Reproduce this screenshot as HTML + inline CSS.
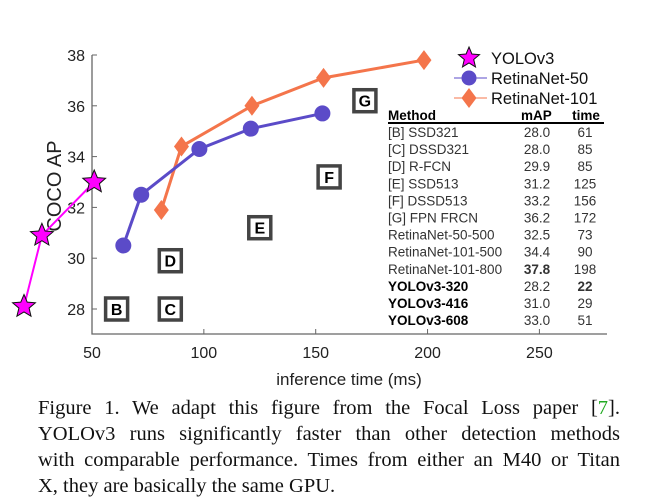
<!DOCTYPE html>
<html><head><meta charset="utf-8"><style>
body{margin:0;background:#fff;width:649px;height:503px;overflow:hidden;position:relative;}
svg{position:absolute;left:0;top:0;}
.cap{position:absolute;left:38px;width:582px;font-family:"Liberation Serif",serif;font-size:20.5px;line-height:26px;color:#111;text-align:justify;text-align-last:justify;white-space:nowrap;}
</style></head><body>
<svg id="chart" width="649" height="400" xmlns="http://www.w3.org/2000/svg" font-family="Liberation Sans, sans-serif"></svg>
<div class="cap" style="top:395px">Figure 1. We adapt this figure from the Focal Loss paper [<span style="color:#2a2">7</span>].</div>
<div class="cap" style="top:421px">YOLOv3 runs significantly faster than other detection methods</div>
<div class="cap" style="top:447px">with comparable performance. Times from either an M40 or Titan</div>
<div class="cap" style="top:473px;text-align-last:left">X, they are basically the same GPU.</div>
<script>
const xTicks=[50,100,150,200,250];
const yTicks=[28,30,32,34,36,38];
const yoloTime=[19.6,27.6,51];
const yoloAP=[28.1,30.9,33.0];
const r50Time=[64,72,98,121,153];
const r50AP=[30.5,32.5,34.3,35.1,35.7];
const r101Time=[81,90,121.5,153.5,198.4];
const r101AP=[31.9,34.4,36.0,37.1,37.8];
const boxLabels=['B','C','D','E','F','G'];
const boxTime=[61,85,85,125,156,172];
const boxAP=[28.0,28.0,29.9,31.2,33.2,36.2];
const tblMethod=['[B] SSD321','[C] DSSD321','[D] R-FCN','[E] SSD513','[F] DSSD513','[G] FPN FRCN','RetinaNet-50-500','RetinaNet-101-500','RetinaNet-101-800','YOLOv3-320','YOLOv3-416','YOLOv3-608'];
const tblMAP=['28.0','28.0','29.9','31.2','33.2','36.2','32.5','34.4','37.8','28.2','31.0','33.0'];
const tblTime=['61','85','85','125','156','172','73','90','198','22','29','51'];

const svg=document.getElementById('chart');
const NS='http://www.w3.org/2000/svg';
const X=v=>92+(v-50)*2.237;
const Y=v=>309-(v-28)*25.4;
function mk(tag,attrs,parent){const e=document.createElementNS(NS,tag);for(const k in attrs)e.setAttribute(k,attrs[k]);(parent||svg).appendChild(e);return e;}

let ax=mk('path',{d:`M92 55 V334 H607`,fill:'none',stroke:'#666','stroke-width':1.3});


xTicks.forEach(t=>{
  const l=mk('line',{x1:X(t),x2:X(t),y1:334,y2:329,stroke:'#666'});
  
  
  const tx=mk('text',{x:X(t),y:358,'text-anchor':'middle','font-size':16,fill:'#222'});tx.textContent=t;
  
  
});
yTicks.forEach(t=>{
  const l=mk('line',{x1:92,x2:97,y1:Y(t),y2:Y(t),stroke:'#666'});
  
  
  const tx=mk('text',{x:85,y:Y(t)+6,'text-anchor':'end','font-size':16,fill:'#222'});tx.textContent=t;
  
  
});
let xt=mk('text',{x:349,y:385,'text-anchor':'middle','font-size':17,fill:'#222'});xt.textContent='inference time (ms)';


let yt=mk('text',{x:0,y:0,'text-anchor':'middle','font-size':20,fill:'#222',transform:'translate(61,186) rotate(-90)'});yt.textContent='COCO AP';



boxLabels.forEach((b,i)=>{
  const g=mk('g',{});
  
  
  const cx=X(boxTime[i]),cy=Y(boxAP[i]);
  mk('rect',{x:cx-11,y:cy-11,width:22,height:22,fill:'#fff',stroke:'#444','stroke-width':3.5},g);
  const t=mk('text',{x:cx,y:cy+6,'text-anchor':'middle','font-size':16,'font-weight':'bold',fill:'#000'},g);t.textContent=b;
});

function star(cx,cy,R,parent){let p='';for(let k=0;k<10;k++){const r=k%2?R*0.45:R;const a=-Math.PI/2+k*Math.PI/5;p+=(k?'L':'M')+(cx+r*Math.cos(a)).toFixed(1)+' '+(cy+r*Math.sin(a)).toFixed(1);}return mk('path',{d:p+'Z',fill:'#ff00ff',stroke:'#111','stroke-width':1},parent);}
function diamond(cx,cy,r,parent){return mk('path',{d:`M${cx} ${cy-r}L${cx+r*0.75} ${cy}L${cx} ${cy+r}L${cx-r*0.75} ${cy}Z`,fill:'#f4754b'},parent);}

const r101=mk('g',{});


mk('polyline',{points:r101Time.map((t,i)=>X(t)+','+Y(r101AP[i])).join(' '),fill:'none',stroke:'#f4754b','stroke-width':3},r101);
r101Time.forEach((t,i)=>{const d=diamond(X(t),Y(r101AP[i]),10,r101);});

const r50=mk('g',{});


mk('polyline',{points:r50Time.map((t,i)=>X(t)+','+Y(r50AP[i])).join(' '),fill:'none',stroke:'#5b4bc8','stroke-width':3},r50);
r50Time.forEach((t,i)=>{const c=mk('circle',{cx:X(t),cy:Y(r50AP[i]),r:8,fill:'#5b4bc8'},r50);});

const yo=mk('g',{});


mk('polyline',{points:yoloTime.map((t,i)=>X(t)+','+Y(yoloAP[i])).join(' '),fill:'none',stroke:'#ff00ff','stroke-width':2},yo);
yoloTime.forEach((t,i)=>{const s=star(X(t),Y(yoloAP[i]),12,yo);});

const lg=mk('g',{});


star(469,58,11,lg);
let t1=mk('text',{x:491,y:64,'font-size':16.5,fill:'#111'},lg);t1.textContent='YOLOv3';
mk('line',{x1:454,x2:487,y1:78,y2:78,stroke:'#5b4bc8','stroke-width':1},lg);
mk('circle',{cx:469,cy:78,r:7.5,fill:'#5b4bc8'},lg);
let t2=mk('text',{x:491,y:84,'font-size':16.5,fill:'#111'},lg);t2.textContent='RetinaNet-50';
mk('line',{x1:454,x2:487,y1:98,y2:98,stroke:'#f4754b','stroke-width':1},lg);
diamond(469,98,10,lg);
let t3=mk('text',{x:491,y:104,'font-size':16.5,fill:'#111'},lg);t3.textContent='RetinaNet-101';

const tb=mk('g',{});


const hdr=[['Method',388,'start'],['mAP',521,'start'],['time',586,'middle']];
hdr.forEach(h=>{const t=mk('text',{x:h[1],y:120,'font-size':13.5,'font-weight':'bold','text-anchor':h[2],fill:'#000'},tb);t.textContent=h[0];});
mk('line',{x1:388,x2:604,y1:123,y2:123,stroke:'#000','stroke-width':2},tb);
tblMethod.forEach((m,i)=>{
  const y=137+i*17.1;
  const bold=i>=9;
  const a=mk('text',{x:388,y:y,'font-size':13.5,fill:bold?'#000':'#333','font-weight':bold?'bold':'normal'},tb);a.textContent=m;
  const b=mk('text',{x:537,y:y,'font-size':13.5,'text-anchor':'middle',fill:'#333','font-weight':i==8?'bold':'normal'},tb);b.textContent=tblMAP[i];
  const c=mk('text',{x:585,y:y,'font-size':13.5,'text-anchor':'middle',fill:'#333','font-weight':i==9?'bold':'normal'},tb);c.textContent=tblTime[i];
});
</script>
</body></html>
